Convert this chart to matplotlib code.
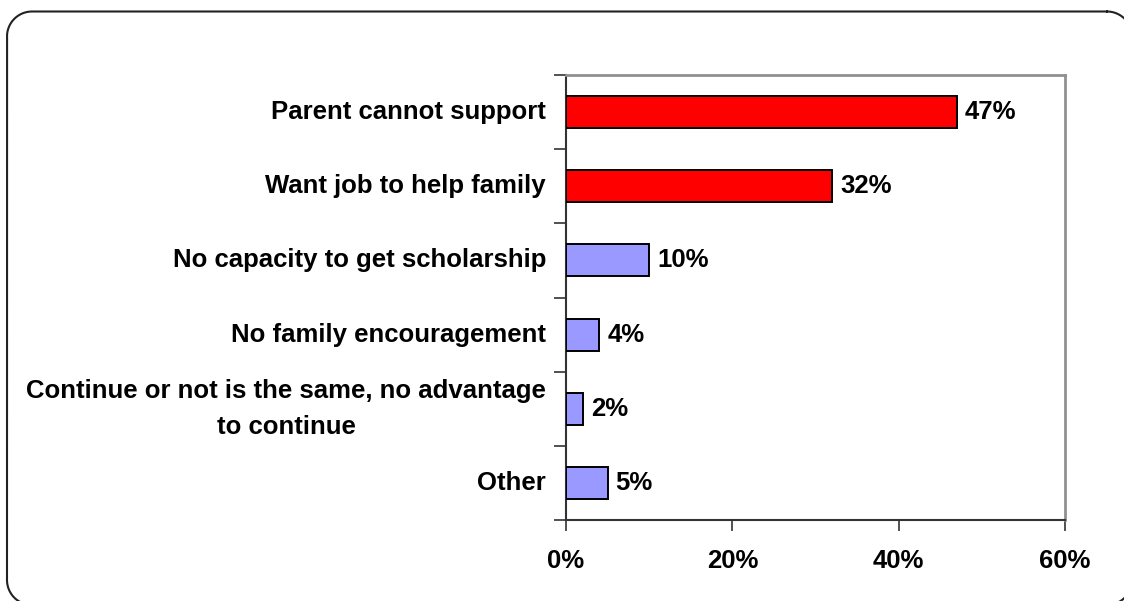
import matplotlib
matplotlib.use("Agg")
import numpy as np
import matplotlib.pyplot as plt
from matplotlib.ticker import FuncFormatter

categories = [
    "Parent cannot support",
    "Want job to help family",
    "No capacity to get scholarship",
    "No family encouragement",
    "Continue or not is the same, no advantage\nto continue",
    "Other",
]
values = [47, 32, 10, 4, 2, 5]
bar_colors = ["#FF0000", "#FF0000", "#9999FF", "#9999FF", "#9999FF", "#9999FF"]
x_ticks = [0, 20, 40, 60]

plt.rcParams["font.family"] = ["Liberation Sans", "DejaVu Sans"]
plt.rcParams["font.weight"] = "bold"
FS = 18.5

W, H = 1124, 601
fig = plt.figure(figsize=(W / 100, H / 100), dpi=100)


def rounded_outline(x0, y0, x1, y1, r, steps=40):
    """Polyline of a rounded rectangle (pixel units, y down)."""
    pts = []
    corners = [((x1 - r, y0 + r), -90, 0), ((x1 - r, y1 - r), 0, 90),
               ((x0 + r, y1 - r), 90, 180), ((x0 + r, y0 + r), 180, 270)]
    for (cx, cy), a0, a1 in corners:
        t = np.radians(np.linspace(a0, a1, steps))
        pts.append(np.column_stack([cx + r * np.cos(t), cy + r * np.sin(t)]))
    pts = np.vstack(pts + [pts[0][:1]])
    return pts[:, 0], pts[:, 1]


# background layer in pixel units for the rounded outer frame
bg = fig.add_axes([0, 0, 1, 1], zorder=-1)
bg.set_xlim(0, W)
bg.set_ylim(H, 0)
bg.axis("off")
fx, fy = rounded_outline(7, 11.5, 1132, 605, 25)
bg.plot(fx, fy, color="#222222", lw=1.5, solid_joinstyle="round")

ax = fig.add_axes([566 / W, 1 - 520 / H, 499 / W, 445 / H])
n = len(categories)
ypos = list(range(n))
ax.barh(ypos, values, height=0.43, color=bar_colors, edgecolor="black",
        linewidth=1.4, zorder=3)
ax.set_ylim(n - 0.5, -0.5)
ax.set_xlim(0, 60)

for y, v in zip(ypos, values):
    ax.annotate(f"{v}%", xy=(v, y), xytext=(8, 0), textcoords="offset pixels",
                ha="left", va="center", fontsize=FS, fontweight="bold")

# category labels placed as text so the wrapped label stays centered
ax.set_yticks([i + 0.5 for i in range(-1, n)])
ax.set_yticklabels([])
for y, lab in zip(ypos, categories):
    ax.annotate(lab, xy=(0, y), xycoords=("axes fraction", "data"),
                xytext=(-20, 0), textcoords="offset pixels",
                ha="right", va="center", multialignment="center",
                fontsize=FS, fontweight="bold", linespacing=1.62)

ax.set_xticks(x_ticks)
ax.xaxis.set_major_formatter(FuncFormatter(lambda v, p: f"{v:.0f}%"))
ax.tick_params(axis="x", length=8, width=1.2, pad=13, labelsize=FS,
               direction="out", color="#333333")
ax.tick_params(axis="y", length=9, width=1.2, direction="out", color="#333333")
for lab in ax.get_xticklabels():
    lab.set_fontweight("bold")

for side in ("left", "bottom"):
    ax.spines[side].set_color("#333333")
    ax.spines[side].set_linewidth(1.5)
for side in ("top", "right"):
    ax.spines[side].set_color("#909090")
    ax.spines[side].set_linewidth(2)

fig.savefig("out.png", dpi=100)
